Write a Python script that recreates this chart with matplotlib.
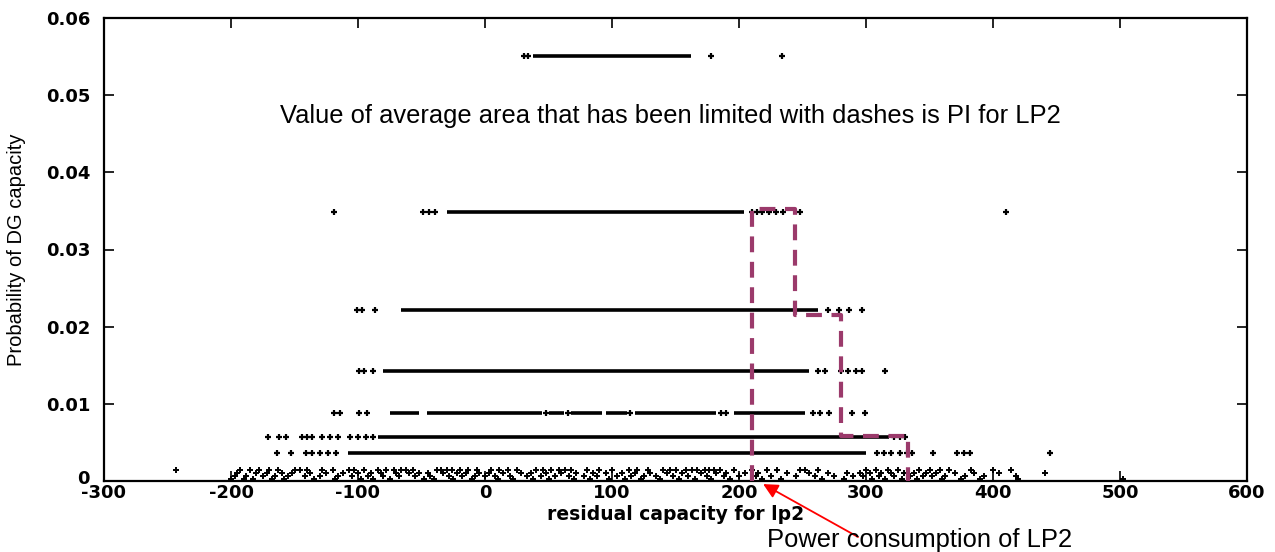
import matplotlib
matplotlib.use("Agg")
import matplotlib.pyplot as plt
from matplotlib.transforms import ScaledTranslation

plt.rcParams["axes.unicode_minus"] = False

# ---------------- data ----------------
# probability levels of the horizontal rows
levels = [0.0551, 0.0349, 0.0222, 0.0142, 0.0088, 0.0057, 0.0036]
# dense runs of points (start, end) on each row
row_runs = [
    [(38, 162)],
    [(-30, 204)],
    [(-66, 262)],
    [(-80, 255)],
    [(-75, -52), (-46, 45), (50, 62), (68, 92), (95, 112), (118, 182), (196, 252)],
    [(-84, 318)],
    [(-108, 300)],
]
# isolated points on each row
row_points = [
    [31, 34, 178, 234],
    [-119, -49, -44, -39, 210, 214, 218, 224, 229, 235, 248, 410],
    [-101, -97, -87, 270, 279, 287, 297],
    [-99, -95, -88, 262, 268, 280, 286, 292, 297, 315],
    [-119, -114, -99, -93, 48, 65, 114, 186, 190, 258, 264, 271, 289, 299],
    [-171, -162, -157, -144, -140, -136, -128, -122, -116, -106, -100, -94, -88, 322, 327, 331],
    [-164, -153, -141, -136, -130, -124, -117, 309, 314, 320, 327, 332, 336, 353, 372, 377, 382, 445],
]
# low-probability scatter near zero
low_levels = [0.0014, 0.0010, 0.0006, 0.0002]
low_points = [
    [-243, -193, -185, -178, -170, -163, -150, -146, -140, -128, -120, -107, -103, -95, -84, -78,
     -72, -66, -62, -57, -38, -35, -30, -26, -20, -13, -6, 5, 11, 18, 25, 40, 46, 52, 58, 63, 68,
     80, 90, 100, 113, 120, 128, 140, 146, 150, 158, 163, 167, 173, 176, 180, 185, 196, 210, 222,
     230, 248, 252, 262, 300, 308, 317, 325, 342, 350, 358, 365, 383, 400, 414],
    [-195, -180, -172, -160, -152, -138, -125, -112, -100, -90, -82, -70, -60, -52, -45, -33, -22,
     -15, -5, 3, 14, 28, 36, 48, 60, 72, 85, 95, 108, 118, 130, 143, 155, 170, 182, 190, 205, 215,
     238, 255, 270, 285, 295, 303, 312, 320, 330, 338, 347, 355, 370, 385, 405, 441],
    [-197, -188, -175, -165, -155, -142, -130, -116, -105, -92, -80, -68, -55, -43, -28, -18, -8,
     0, 8, 20, 33, 44, 55, 66, 78, 88, 104, 115, 125, 135, 148, 160, 175, 188, 200, 213, 225, 245,
     260, 275, 290, 298, 310, 322, 335, 345, 352, 362, 378, 393, 418],
    [-200, -190, -183, -168, -158, -135, -118, -98, -88, -75, -48, -40, -25, -10, 10, 22, 38, 50,
     70, 83, 98, 110, 123, 138, 153, 165, 178, 193, 218, 233, 265, 283, 305, 315, 328, 340, 360,
     375, 390, 420, 502],
]
# dashed step outline (PI area for LP2)
step_x = [210, 210, 244, 244, 280, 280, 333, 333]
step_y = [0.0, 0.0352, 0.0352, 0.0215, 0.0215, 0.0058, 0.0058, 0.0]

x_ticks = [-300, -200, -100, 0, 100, 200, 300, 400, 500, 600]
y_ticks = [0, 0.01, 0.02, 0.03, 0.04, 0.05, 0.06]
y_ticklabels = ["0", "0.01", "0.02", "0.03", "0.04", "0.05", "0.06"]

power_lp2 = 219

# ---------------- plot ----------------
fig = plt.figure(figsize=(12.75, 5.52), dpi=100)
ax = fig.add_axes([104 / 1275, 71 / 552, (1247 - 104) / 1275, (481 - 18) / 552])

for lev, runs, pts in zip(levels, row_runs, row_points):
    for a, b in runs:
        ax.hlines(lev, a, b, color="black", lw=2.6, zorder=2)
    ax.plot(pts, [lev] * len(pts), linestyle="none", marker="+", ms=4.5, mew=1.6,
            color="black", zorder=2)

for lev, pts in zip(low_levels, low_points):
    ax.plot(pts, [lev] * len(pts), linestyle="none", marker="+", ms=4, mew=1.4,
            color="black", zorder=2)

ax.plot(step_x, step_y, color="#9b3a6b", lw=3.0, linestyle=(0, (3.8, 2.3)), zorder=3)

ax.set_xlim(-300, 600)
ax.set_ylim(0, 0.06)
ax.set_xticks(x_ticks)
ax.set_yticks(y_ticks)
ax.set_yticklabels(y_ticklabels)
ax.tick_params(direction="in", length=7, width=1.2, top=True, right=True,
               labelsize=13)
ax.tick_params(axis="x", pad=2)
ax.tick_params(axis="y", pad=10)
for lab in ax.get_xticklabels() + ax.get_yticklabels():
    lab.set_fontweight("bold")
    lab.set_family("DejaVu Sans")
# lift the "0" label on the y axis slightly, as in the original
zero_lab = ax.get_yticklabels()[0]
zero_lab.set_transform(zero_lab.get_transform() + ScaledTranslation(0, 3 / 72, fig.dpi_scale_trans))
for s in ax.spines.values():
    s.set_linewidth(1.6)

ax.set_xlabel("residual capacity for lp2", fontsize=13.5, fontweight="bold",
              family="DejaVu Sans", labelpad=2)
ax.set_ylabel("Probability of DG capacity", fontsize=14.5, family="Liberation Sans",
              labelpad=14)

ax.text(146, 0.0473, "Value of average area that has been limited with dashes is PI for LP2",
        ha="center", va="center", fontsize=18.4, family="Liberation Sans")

fig.text(767 / 1275, 12 / 552, "Power consumption of LP2", ha="left", va="center",
         fontsize=18.4, family="Liberation Sans")
ax.annotate("", xy=(power_lp2, -0.0004), xycoords="data",
            xytext=(858 / 1275, 15 / 552), textcoords="figure fraction",
            arrowprops=dict(arrowstyle="-|>", color="red", lw=1.3,
                            mutation_scale=22, shrinkA=0, shrinkB=0),
            annotation_clip=False)

fig.savefig("out.png", dpi=100)
